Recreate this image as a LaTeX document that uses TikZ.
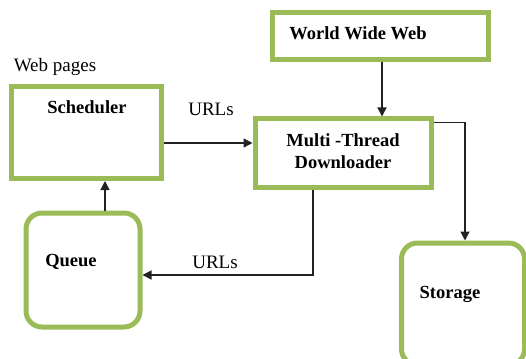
\documentclass[tikz,border=0pt]{standalone}
\usepackage{fontspec}
\setmainfont{Liberation Serif}
\usetikzlibrary{arrows.meta,calc}
\definecolor{boxgreen}{HTML}{9BBB59}
\definecolor{linegray}{HTML}{222222}
\begin{document}
\begin{tikzpicture}[x=1pt,y=-1pt,
  box/.style={draw=boxgreen,line width=5pt,fill=white,minimum width=#1},
  rbox/.style={box=#1,rounded corners=16pt},
  lbl/.style={font=\fontsize{19}{21}\selectfont,inner sep=0pt},
  blbl/.style={font=\fontsize{18.5}{22}\selectfont\bfseries,inner sep=0pt,align=center},
  arr/.style={draw=linegray,line width=1.3pt,-{Triangle[length=9pt,width=9pt]}},
  ln/.style={draw=linegray,line width=1.3pt}]
\useasboundingbox (0,0) rectangle (526,358);
% boxes
\node[box=150pt,minimum height=92pt] (sched) at (86.5,132.5) {};
\node[box=216pt,minimum height=47pt] (www) at (380,36.5) {};
\node[box=176pt,minimum height=68pt] (multi) at (343,153) {};
\node[rbox=114pt,minimum height=114pt] (queue) at (83,270) {};
\node[rbox=123pt,minimum height=122pt] (storage) at (463,304) {};
% texts
\node[blbl] (tsched) at (87,107) {Scheduler};
\node[blbl] (twww) at (358,33) {World Wide Web};
\node[blbl] (tmulti) at (343,151) {Multi -Thread\\Downloader};
\node[blbl] (tqueue) at (71,262) {Queue};
\node[blbl] (tstorage) at (450,294) {Storage};
\node[lbl] (tweb) at (55,67) {Web pages};
\node[lbl] (turl1) at (211,109) {URLs};
\node[lbl] (turl2) at (215,262) {URLs};
% connectors
\draw[arr] ([yshift=-10.5pt]sched.east) -- ([yshift=-10.5pt]sched.east -| multi.west);
\draw[arr] ([xshift=2pt]www.south) -- ([xshift=2pt]www.south |- multi.north);
\draw[arr] ([yshift=-6pt]multi.north east) -| ([xshift=2pt]storage.north);
\draw[arr] ([xshift=-30pt]multi.south) |- ([yshift=-5pt]queue.east);
\draw[arr] ([xshift=22pt]queue.north) -- ([xshift=22pt]queue.north |- sched.south);
\end{tikzpicture}
\end{document}
